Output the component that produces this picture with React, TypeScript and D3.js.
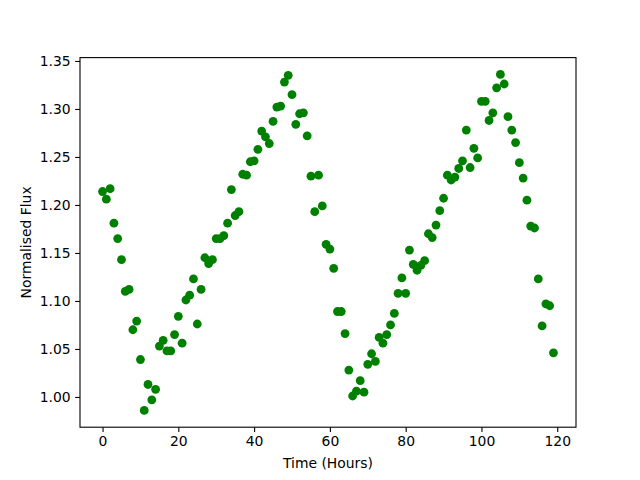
import * as d3 from 'd3';
import { useEffect, useRef } from 'react';

// Hours since start of observation
const hours: number[] = d3.range(0, 120);

// Normalised flux, one reading per hour
const flux: number[] = [
  1.214, 1.206, 1.217, 1.181, 1.165, 1.143, 1.110, 1.112, 1.070, 1.079,
  1.039, 0.986, 1.013, 0.997, 1.008, 1.053, 1.059, 1.048, 1.048, 1.065,
  1.084, 1.056, 1.101, 1.106, 1.123, 1.076, 1.112, 1.145, 1.139, 1.143,
  1.165, 1.165, 1.168, 1.181, 1.216, 1.189, 1.193, 1.232, 1.231, 1.245,
  1.246, 1.258, 1.277, 1.271, 1.264, 1.287, 1.302, 1.303, 1.328, 1.335,
  1.315, 1.284, 1.295, 1.296, 1.272, 1.230, 1.193, 1.231, 1.199, 1.159,
  1.154, 1.134, 1.089, 1.089, 1.066, 1.028, 1.001, 1.006, 1.017, 1.005,
  1.034, 1.045, 1.037, 1.062, 1.056, 1.065, 1.075, 1.087, 1.108, 1.124,
  1.108, 1.153, 1.138, 1.132, 1.137, 1.142, 1.170, 1.166, 1.179, 1.194,
  1.207, 1.231, 1.226, 1.229, 1.238, 1.246, 1.278, 1.239, 1.259, 1.249,
  1.308, 1.308, 1.288, 1.296, 1.322, 1.336, 1.326, 1.292, 1.278, 1.265,
  1.244, 1.228, 1.205, 1.178, 1.176, 1.123, 1.074, 1.097, 1.095, 1.046,
];

const xTicks = [0, 20, 40, 60, 80, 100, 120];
const yTicks = [1.0, 1.05, 1.1, 1.15, 1.2, 1.25, 1.3, 1.35];

const FluxChart = () => {
  const ref = useRef<SVGSVGElement>(null);

  useEffect(() => {
    const svg = d3.select(ref.current);
    svg.selectAll('*').remove();

    const width = 640, height = 480;
    const left = 80, right = 576, top = 57.6, bottom = 427.2;
    const font = 'DejaVu Sans, sans-serif';

    // matplotlib style 5% padding around the data
    const xPad = (d3.max(hours)! - d3.min(hours)!) * 0.05;
    const yPad = (d3.max(flux)! - d3.min(flux)!) * 0.05;
    const x = d3.scaleLinear()
      .domain([d3.min(hours)! - xPad, d3.max(hours)! + xPad])
      .range([left, right]);
    const y = d3.scaleLinear()
      .domain([d3.min(flux)! - yPad, d3.max(flux)! + yPad])
      .range([bottom, top]);

    svg.attr('width', width).attr('height', height);
    svg.append('rect').attr('width', width).attr('height', height).attr('fill', 'white');

    // points
    svg.append('g')
      .selectAll('circle')
      .data(hours)
      .enter()
      .append('circle')
      .attr('cx', d => x(d))
      .attr('cy', (d, i) => y(flux[i]))
      .attr('r', 4.4)
      .attr('fill', '#008000');

    // x axis
    const xAxis = d3.axisBottom(x).tickValues(xTicks).tickSize(4.86).tickPadding(4.5)
      .tickFormat(d => String(d));
    const gx = svg.append('g').attr('transform', `translate(0,${bottom})`).call(xAxis);

    // y axis
    const yAxis = d3.axisLeft(y).tickValues(yTicks).tickSize(4.86).tickPadding(4.5)
      .tickFormat(d => d3.format('.2f')(d as number));
    const gy = svg.append('g').attr('transform', `translate(${left},0)`).call(yAxis);

    [gx, gy].forEach(g => {
      g.select('.domain').remove();
      g.selectAll('line').attr('stroke', 'black').attr('stroke-width', 1.1);
      g.selectAll('text').attr('fill', 'black').style('font-family', font).style('font-size', '13.9px');
    });

    // frame
    svg.append('rect')
      .attr('x', left).attr('y', top)
      .attr('width', right - left).attr('height', bottom - top)
      .attr('fill', 'none').attr('stroke', 'black').attr('stroke-width', 1.1);

    // axis labels
    svg.append('text')
      .attr('x', (left + right) / 2).attr('y', 468)
      .attr('text-anchor', 'middle')
      .style('font-family', font).style('font-size', '13.9px')
      .text('Time (Hours)');

    svg.append('text')
      .attr('transform', `translate(31,${(top + bottom) / 2}) rotate(-90)`)
      .attr('text-anchor', 'middle')
      .style('font-family', font).style('font-size', '13.9px')
      .text('Normalised Flux');
  }, []);

  return <svg ref={ref} style={{ position: 'absolute', left: 0, top: 0 }}></svg>;
};

export default function App() {
  return <FluxChart />;
}
